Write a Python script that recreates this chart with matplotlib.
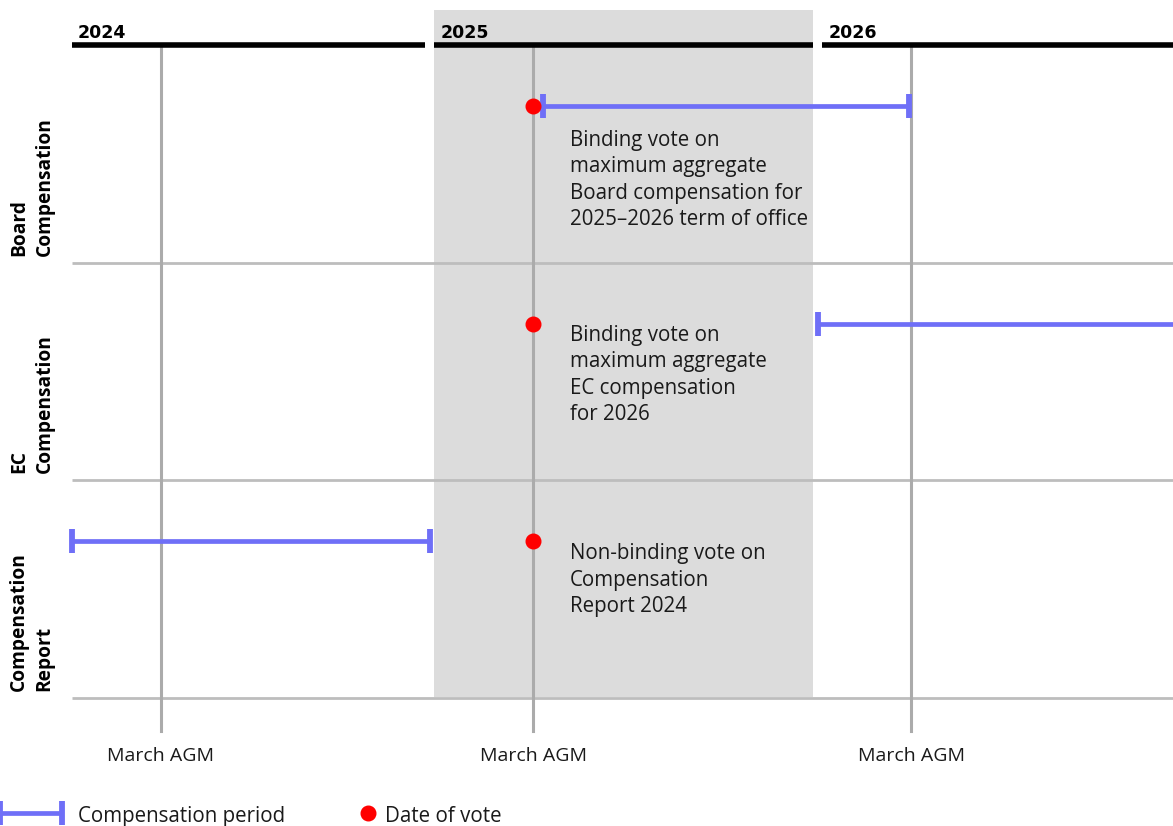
import matplotlib
matplotlib.use("Agg")
import matplotlib.pyplot as plt

plt.rcParams['font.family'] = ['Open Sans', 'DejaVu Sans']

# ---- data (x in months from start of 2024) ----
years = ['2024', '2025', '2026']
year_start = [0.0, 11.84, 24.53]
year_end = [11.54, 24.23, 36.0]
agm_x = [2.91, 15.08, 27.44]
agm_labels = ['March AGM', 'March AGM', 'March AGM']
rows = ['Board\nCompensation', 'EC\nCompensation', 'Compensation\nReport']
period_start = [15.40, 24.39, 0.0]
period_end = [27.37, 36.6, 11.71]
vote_x = [15.08, 15.08, 15.08]
vote_text = ['Binding vote on\nmaximum aggregate\nBoard compensation for\n2025\u20132026 term of office',
             'Binding vote on\nmaximum aggregate\nEC compensation\nfor 2026',
             'Non-binding vote on\nCompensation\nReport 2024']
text_offset = [0.825, 0.722, 0.605]   # baseline of last line, in row units
shade_year = 1

BLUE = '#6f6ff7'
RED = '#ff0000'
GRID = '#bdbdbd'
VLINE = '#ababab'
SHADE = '#dcdcdc'
TXT = '#1a1a1a'

fig = plt.figure(figsize=(11.73, 8.26), dpi=100)
ax = fig.add_axes([0, 0, 1, 1])
ax.set_xlim(-2.354, 36.0)
ax.set_ylim(3.589, -0.209)
ax.axis('off')

# shaded year
ax.axvspan(year_start[shade_year], year_end[shade_year], ymin=(3.589 - 2.998) / 3.798,
           ymax=(3.589 + 0.163) / 3.798, color=SHADE, zorder=0, lw=0)

# row separators
for i in range(1, len(rows) + 1):
    ax.plot([0, 36.0], [i, i], color=GRID, lw=2, zorder=1, solid_capstyle='butt')

# AGM vertical lines
for x, lab in zip(agm_x, agm_labels):
    ax.plot([x, x], [0.01, 3.15], color=VLINE, lw=2.2, zorder=1)
    ax.text(x, 3.265, lab, ha='center', va='center', fontsize=14, color=TXT)

# year bars
for y0, y1, lab in zip(year_start, year_end, years):
    ax.plot([y0, y1], [0, 0], color='black', lw=4, solid_capstyle='butt', zorder=3)
    ax.text(y0 + 0.2, -0.035, lab, ha='left', va='baseline', fontsize=12.5,
            fontweight='bold', family=['DejaVu Sans'])

# row labels
for i, lab in enumerate(rows):
    ax.text(-1.31, i + 1 - 0.032, lab, rotation=90, ha='center', va='bottom',
            multialignment='left', fontsize=13.8, fontweight='bold', linespacing=1.35)

# periods and votes
for i in range(len(rows)):
    yv = i + 0.28
    ax.errorbar([(period_start[i] + period_end[i]) / 2], [yv],
                xerr=[[(period_end[i] - period_start[i]) / 2]],
                fmt='none', ecolor=BLUE, elinewidth=3.4, capsize=8.6, capthick=4.2, zorder=4)
    ax.plot([vote_x[i]], [yv], 'o', color=RED, ms=10.5, zorder=5)
    ax.text(16.29, i + text_offset[i], vote_text[i], ha='left', va='baseline', fontsize=14.8,
            linespacing=1.33, color=TXT)

# legend (manual)
ax.errorbar([-1.34], [3.53], xerr=[[1.0]], fmt='none', ecolor=BLUE, elinewidth=3.4,
            capsize=8.6, capthick=4.2, clip_on=False)
ax.text(0.196, 3.545, 'Compensation period', ha='left', va='center', fontsize=14.8, color=TXT)
ax.plot([9.68], [3.53], 'o', color=RED, ms=10.5)
ax.text(10.24, 3.545, 'Date of vote', ha='left', va='center', fontsize=14.8, color=TXT)

fig.savefig('out.png', dpi=100)
